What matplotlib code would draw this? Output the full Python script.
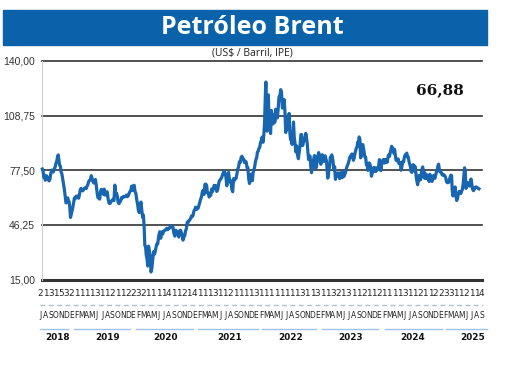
import matplotlib
matplotlib.use("Agg")
import matplotlib.pyplot as plt
from matplotlib import font_manager as fm
from matplotlib.patches import Rectangle
from matplotlib.lines import Line2D

# ---------------- data (Brent, US$/barrel; values per month, Jul 2018 - Sep 2025) -------------
brent_2018 = [
    [78.2, 77.1, 73.4, 74.8, 71.8, 73.1, 74.3],
    [73.4, 72.1, 71.4, 72.6, 75.7, 77.6],
    [77.3, 76.5, 78.1, 79.2, 81.2, 82.7],
    [85.0, 86.3, 83.0, 80.3, 79.8, 76.4, 75.5],
    [72.8, 70.1, 66.8, 62.6, 58.8, 59.5],
    [61.7, 60.3, 59.6, 56.3, 50.5, 52.2, 53.8],
]
brent_2019 = [
    [55.9, 58.7, 61.7, 61.2, 62.7, 61.9],
    [62.8, 61.5, 63.6, 66.5, 67.1, 66.3],
    [65.7, 66.6, 67.2, 67.5, 67.0, 68.4],
    [69.4, 71.1, 71.7, 71.9, 74.4, 72.8],
    [71.2, 70.2, 71.2, 72.2, 68.7, 64.5],
    [61.7, 62.0, 61.0, 65.2, 66.6, 64.7],
    [63.8, 66.7, 63.3, 63.5, 65.2],
    [60.8, 58.5, 58.6, 59.7, 60.4],
    [61.0, 60.2, 69.0, 64.4, 64.3, 62.5],
    [58.9, 58.4, 59.4, 60.0, 61.9, 61.7],
    [62.5, 62.3, 62.4, 63.3, 62.4],
    [63.0, 64.4, 65.2, 66.1, 68.4, 66.0],
]
brent_2020 = [
    [68.6, 68.9, 65.4, 64.2, 60.7, 58.2],
    [54.5, 53.3, 56.3, 59.3, 55.0, 50.5],
    [51.9, 45.3, 34.4, 33.9, 28.7, 27.0, 22.7],
    [34.1, 31.7, 28.1, 19.3, 21.4, 26.4],
    [30.9, 29.6, 32.5, 35.1, 35.3],
    [39.8, 42.3, 38.6, 42.2, 41.0],
    [42.8, 43.2, 43.3, 44.3, 43.5],
    [44.4, 44.5, 45.4, 45.8, 45.3],
    [41.5, 39.8, 43.2, 41.9, 40.9],
    [39.3, 42.9, 43.2, 41.8, 40.4, 37.5],
    [39.5, 40.0, 42.8, 44.2, 47.8, 47.6],
    [48.7, 49.0, 50.0, 51.3, 50.9, 51.8],
]
brent_2021 = [
    [54.3, 55.0, 56.4, 55.1, 55.4, 55.9],
    [57.5, 59.3, 61.1, 62.4, 65.2, 66.1],
    [63.7, 69.4, 69.6, 68.9, 64.5, 64.6],
    [62.2, 63.0, 63.2, 66.8, 65.3, 66.8],
    [68.9, 68.3, 68.7, 65.4, 66.1, 68.7],
    [71.4, 71.9, 72.7, 73.5, 75.1, 76.2],
    [77.2, 75.6, 73.5, 68.6, 73.6, 76.3],
    [72.9, 70.7, 71.3, 66.5, 65.2, 72.7],
    [71.6, 72.6, 72.9, 75.3, 78.1, 79.5],
    [82.4, 81.9, 84.9, 85.5, 84.5, 83.7],
    [81.9, 82.7, 82.2, 79.0, 78.9, 72.7],
    [69.9, 71.7, 75.2, 73.5, 71.5, 76.1, 77.8],
]
brent_2022 = [
    [79.0, 81.8, 83.7, 84.7, 87.9, 88.2, 90.0],
    [90.4, 93.3, 94.4, 96.5, 93.5, 97.9],
    [104.9, 118.1, 127.98, 112.7, 99.9, 107.9, 120.6, 104.4],
    [102.8, 98.5, 111.7, 106.7, 104.0, 109.3],
    [104.9, 112.4, 111.6, 107.4, 112.6, 119.4],
    [119.7, 123.6, 122.0, 113.1, 114.1, 118.0],
    [111.6, 99.1, 107.0, 101.2, 103.2, 110.0],
    [98.6, 94.9, 98.2, 92.3, 96.7, 105.1, 96.5],
    [93.0, 88.0, 91.4, 86.2, 84.1, 88.0],
    [91.8, 97.9, 97.9, 91.6, 93.5, 95.8],
    [94.7, 98.6, 96.0, 92.9, 87.6, 83.6, 85.4],
    [85.6, 79.4, 76.1, 81.0, 79.0, 83.9, 85.9],
]
brent_2023 = [
    [82.1, 78.6, 80.1, 85.3, 86.2, 87.6, 84.9],
    [82.2, 80.9, 85.4, 86.4, 83.0, 82.5, 83.9],
    [85.8, 84.1, 82.8, 77.5, 72.97, 74.99, 78.1, 79.8],
    [84.9, 85.1, 86.3, 84.8, 81.7, 77.7, 79.5],
    [72.3, 75.3, 74.2, 76.0, 75.6, 72.7],
    [76.1, 74.8, 73.2, 76.6, 73.9, 74.9],
    [76.3, 78.5, 79.9, 81.1, 82.7, 84.99],
    [85.1, 86.2, 86.8, 84.8, 83.2, 84.5, 86.9],
    [88.6, 90.1, 90.7, 93.7, 93.3, 96.55, 95.3],
    [84.6, 85.8, 90.9, 92.2, 90.0, 87.4, 84.9],
    [84.9, 80.6, 81.4, 77.4, 80.6, 81.7, 80.9],
    [78.9, 74.1, 75.8, 76.6, 79.0, 79.1, 77.0],
]
brent_2024 = [
    [76.8, 78.8, 77.6, 78.3, 80.0, 83.6, 81.7],
    [77.3, 80.6, 82.2, 83.5, 83.6, 81.6, 83.6],
    [83.6, 82.0, 82.1, 85.3, 86.4, 85.4, 87.5],
    [89.4, 91.2, 90.5, 89.7, 87.3, 89.5, 86.3],
    [83.4, 82.96, 82.8, 83.98, 81.4, 82.1, 81.6],
    [77.5, 79.6, 82.6, 82.3, 85.2, 86.4],
    [86.5, 87.3, 85.0, 85.1, 82.6, 81.1, 79.6],
    [76.8, 76.3, 79.7, 80.7, 77.2, 79.9, 78.8],
    [73.8, 71.1, 69.2, 71.6, 74.5, 73.5, 71.98],
    [75.4, 78.05, 79.4, 76.6, 73.1, 76.05, 72.8],
    [75.1, 73.1, 72.6, 73.9, 71.04, 75.2, 72.9],
    [71.8, 71.1, 72.9, 74.5, 73.4, 72.9, 74.6],
]
brent_2025 = [
    [76.5, 77.1, 79.8, 81.0, 78.3, 76.6, 76.8],
    [75.7, 74.7, 75.2, 74.7, 74.4, 73.2],
    [71.0, 70.4, 70.4, 70.6, 72.2, 73.6, 74.7],
    [74.5, 65.6, 62.8, 64.8, 66.1, 67.96, 63.1],
    [60.2, 61.3, 63.9, 65.4, 64.8, 64.2],
    [65.6, 66.5, 69.4, 74.2, 78.9, 77.0, 67.1],
    [68.8, 68.6, 70.4, 69.3, 68.4, 69.2, 72.5],
    [69.7, 66.6, 65.8, 66.8, 67.7, 68.0],
    [66.88],
]

years = ["2018", "2019", "2020", "2021", "2022", "2023", "2024", "2025"]
month_letters = ["J", "A", "S", "O", "N", "D"] + \
    ["E", "F", "M", "A", "M", "J", "J", "A", "S", "O", "N", "D"] * 6 + \
    ["E", "F", "M", "A", "M", "J", "J", "A", "S"]
week_digits = "2131532111131121122321111411214111311211113" \
              "11111111311311321311211211113112112233112114"
y_ticks = [15.00, 46.25, 77.50, 108.75, 140.00]
title = "Petróleo Brent"
subtitle = "(US$ / Barril, IPE)"
last_value = "66,88"

# ---------------- fonts ----------------
names = {f.name for f in fm.fontManager.ttflist}
narrow = "Liberation Sans Narrow" if "Liberation Sans Narrow" in names else "DejaVu Sans"
narrow_scale = 1.0 if narrow == "Liberation Sans Narrow" else 0.8

# ---------------- build series ----------------
months = brent_2018 + brent_2019 + brent_2020 + brent_2021 + brent_2022 + \
    brent_2023 + brent_2024 + brent_2025
xs, ys = [], []
for m, vals in enumerate(months):
    n = len(vals)
    for k, v in enumerate(vals):
        xs.append(m + (k + 0.5) / n)
        ys.append(v)

W, H = 520, 365
fig = plt.figure(figsize=(W / 100, H / 100), dpi=100)

def fx(px):
    return px / W

def fy(py):
    return 1 - py / H

# title banner
fig.patches.append(Rectangle((fx(3), fy(45)), fx(487) - fx(3), fy(10) - fy(45),
                             transform=fig.transFigure, color="#0a63aa", zorder=0))
fig.text(fx(252), fy(28), title, color="white", fontsize=18, fontweight="bold",
         family="Open Sans", ha="center", va="center")
fig.text(fx(252), fy(53), subtitle, color="#222222", fontsize=7.5,
         family="Open Sans", ha="center", va="center")

# axes
left_px, right_px, top_px, bot_px = 42, 481.5, 61, 279.5
ax = fig.add_axes([fx(left_px), fy(bot_px), fx(right_px) - fx(left_px), fy(top_px) - fy(bot_px)])
ax.set_xlim(0, 87)
ax.set_ylim(15, 140)
for s in ["top", "right", "bottom"]:
    ax.spines[s].set_visible(False)
ax.spines["left"].set_color("#cfcfcf")
ax.spines["left"].set_linewidth(0.8)
ax.set_xticks([])
ax.set_yticks(y_ticks)
ax.set_yticklabels([f"{v:.2f}".replace(".", ",") for v in y_ticks],
                   family="Liberation Sans", fontsize=7.5, color="#333333")
ax.tick_params(axis="y", length=0, pad=5)
for v in y_ticks:
    ax.axhline(v, color="#333333", lw=2.2 if v == 15 else 1.2, clip_on=False, zorder=1)
ax.plot(xs, ys, color="#1766af", lw=2.3, solid_joinstyle="round", zorder=3, clip_on=False)

ax.text(0.905, 0.865, last_value, transform=ax.transAxes, family="DejaVu Serif",
        fontweight="bold", fontsize=11, ha="center", va="center", color="#111111")

# bottom labels
x0, step = 40.5, 5.13
for i, d in enumerate(week_digits):
    fig.text(fx(x0 + step * i), fy(293), d, family=narrow, fontsize=8 * narrow_scale,
             ha="center", va="center", color="#222222")
for i, mth in enumerate(month_letters):
    fig.text(fx(x0 + step * i), fy(315), mth, family=narrow, fontsize=6.8 * narrow_scale,
             ha="center", va="center", color="#222222")
fig.lines.append(Line2D([fx(40), fx(483)], [fy(305), fy(305)], transform=fig.transFigure,
                        color="#b0c0d2", lw=1.0, dashes=(3.5, 2.5)))
underline_spans = [(40, 68), (74, 130), (136, 193), (198, 258), (262, 316),
                   (322, 378), (385, 442), (446, 487)]
year_centers = [57, 108, 166, 230, 291, 351, 413, 473]
for (a, b), xc, yr in zip(underline_spans, year_centers, years):
    fig.lines.append(Line2D([fx(a), fx(b)], [fy(329), fy(329)], transform=fig.transFigure,
                            color="#9fc3e8", lw=1.0))
    fig.text(fx(xc), fy(338), yr, family=narrow, fontweight="bold",
             fontsize=8 * narrow_scale, ha="center", va="center", color="#111111")

fig.savefig("out.png", dpi=100)
